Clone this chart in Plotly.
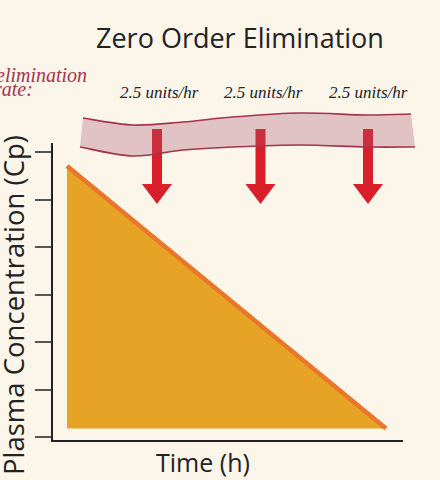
import plotly.graph_objects as go

# ---- data ----
time_h = [0, 22]                 # hours
conc = [55, 0]                   # plasma concentration (units)
rate_labels = ["2.5 units/hr", "2.5 units/hr", "2.5 units/hr"]
title_text = "Zero Order Elimination"
x_title = "Time (h)"
y_title = "Plasma Concentration (Cp)"
side_label = ["elimination", "rate:"]

# ---- layout geometry (pixels) ----
W, H = 440, 480
L, R, T, B = 53, 37, 143, 40
PW, PH = W - L - R, H - T - B


def px(x):
    return (x - L) / PW


def py(y):
    return (H - B - y) / PH


def smooth(pts, start_cmd="M"):
    pts = [(px(a), py(b)) for a, b in pts]
    s = f"{start_cmd} {pts[0][0]:.5f},{pts[0][1]:.5f} "
    n = len(pts)
    for i in range(n - 1):
        p0 = pts[i - 1] if i > 0 else pts[i]
        p1 = pts[i]
        p2 = pts[i + 1]
        p3 = pts[i + 2] if i + 2 < n else pts[i + 1]
        c1 = (p1[0] + (p2[0] - p0[0]) / 6, p1[1] + (p2[1] - p0[1]) / 6)
        c2 = (p2[0] - (p3[0] - p1[0]) / 6, p2[1] - (p3[1] - p1[1]) / 6)
        s += f"C {c1[0]:.5f},{c1[1]:.5f} {c2[0]:.5f},{c2[1]:.5f} {p2[0]:.5f},{p2[1]:.5f} "
    return s


BG = "#FBF5EA"
FILL = "#E6A325"
LINE = "#E8772B"
RED = "#D9202A"
MAROON = "#A53350"
INK = "#222222"
SANS = "Open Sans"
SERIF = "Liberation Serif"

fig = go.Figure()
fig.add_trace(go.Scatter(
    x=time_h, y=conc, mode="lines",
    line=dict(color=LINE, width=4.5),
    fill="tozeroy", fillcolor=FILL,
    hoverinfo="skip", showlegend=False,
))

# y scale: data 0 at px 428.5, 55 at px 166
scale = (428.5 - 166) / 55.0
y_lo = -(440 - 428.5) / scale
y_hi = (428.5 - 143) / scale
tick0 = -(437 - 428.5) / scale
dtick = 47.5 / scale

x_scale = (386 - 67) / 22.0
x_lo = -(67 - 53) / x_scale
x_hi = (403 - 67) / x_scale

shapes = []
# arrows
arrow_cx = [157, 260.5, 368]
for cx in arrow_cx:
    pts = [(cx - 5, 129), (cx + 5, 129), (cx + 5, 184), (cx + 15, 184),
           (cx, 204), (cx - 15, 184), (cx - 5, 184)]
    p = "M " + " L ".join(f"{px(a):.5f},{py(b):.5f}" for a, b in pts) + " Z"
    shapes.append(dict(type="path", xref="paper", yref="paper", path=p,
                       fillcolor=RED, line=dict(width=0), layer="above"))

top_pts = [(83, 118), (133, 125), (183, 122), (233, 117), (300, 113), (367, 115), (411, 114)]
bot_pts = [(80, 147), (133, 156), (183, 150), (233, 147), (300, 145), (367, 147), (415, 147)]
band = smooth(top_pts) + smooth(bot_pts[::-1], "L") + "Z"
shapes.append(dict(type="path", xref="paper", yref="paper", path=band,
                   fillcolor="rgba(168,78,114,0.30)", line=dict(width=0), layer="above"))
shapes.append(dict(type="path", xref="paper", yref="paper", path=smooth(top_pts),
                   line=dict(color=MAROON, width=1.6), layer="above"))
shapes.append(dict(type="path", xref="paper", yref="paper", path=smooth(bot_pts),
                   line=dict(color=MAROON, width=1.6), layer="above"))

ann = []
ann.append(dict(text=title_text, x=px(240), y=py(37), xref="paper", yref="paper",
                showarrow=False, xanchor="center", yanchor="middle",
                font=dict(family=SANS, size=27, color=INK)))
ann.append(dict(text=x_title, x=px(203), y=py(462), xref="paper", yref="paper",
                showarrow=False, xanchor="center", yanchor="middle",
                font=dict(family=SANS, size=25, color=INK)))
ann.append(dict(text=y_title, x=px(13), y=py(305), xref="paper", yref="paper",
                showarrow=False, xanchor="center", yanchor="middle", textangle=-90,
                font=dict(family=SANS, size=27.5, color=INK)))
for cx, lab in zip([159, 263, 368], rate_labels):
    ann.append(dict(text=lab, x=px(cx), y=py(92), xref="paper", yref="paper",
                    showarrow=False, xanchor="center", yanchor="middle",
                    font=dict(family=SERIF, size=17, color=INK, style="italic")))
ann.append(dict(text=side_label[0], x=px(89), y=py(75), xref="paper", yref="paper",
                showarrow=False, xanchor="right", yanchor="middle",
                font=dict(family=SERIF, size=20, color=MAROON, style="italic")))
ann.append(dict(text=side_label[1], x=px(35), y=py(89), xref="paper", yref="paper",
                showarrow=False, xanchor="right", yanchor="middle",
                font=dict(family=SERIF, size=20, color=MAROON, style="italic")))

fig.update_layout(
    width=W, height=H,
    margin=dict(l=L, r=R, t=T, b=B, pad=0),
    paper_bgcolor=BG, plot_bgcolor=BG,
    shapes=shapes, annotations=ann,
    xaxis=dict(range=[x_lo, x_hi], showline=True, linecolor=INK, linewidth=2,
               showticklabels=False, ticks="", showgrid=False, zeroline=False,
               fixedrange=True),
    yaxis=dict(range=[y_lo, y_hi], showline=True, linecolor=INK, linewidth=2,
               showticklabels=False, ticks="outside", ticklen=16, tickwidth=2,
               tickcolor="#555555", tick0=tick0, dtick=dtick,
               showgrid=False, zeroline=False, fixedrange=True),
)

fig.write_html(
    "out.html",
    config={"displayModeBar": False},
    post_script="document.body.style.margin='0px';document.body.style.overflow='hidden';"
                "document.documentElement.style.background='" + BG + "';",
)
